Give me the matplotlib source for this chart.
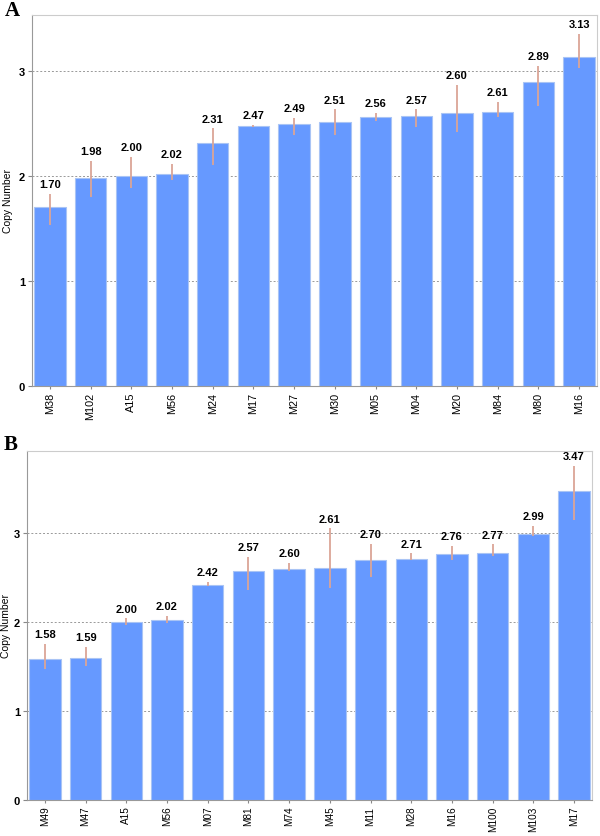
import matplotlib
matplotlib.use("Agg")
import matplotlib.pyplot as plt
import numpy as np

# Panel A data
cats_a = ["M38", "M102", "A15", "M56", "M24", "M17", "M27", "M30", "M05", "M04", "M20", "M84", "M80", "M16"]
vals_a = [1.70, 1.98, 2.00, 2.02, 2.31, 2.47, 2.49, 2.51, 2.56, 2.57, 2.60, 2.61, 2.89, 3.13]
hi_a = [1.83, 2.14, 2.18, 2.11, 2.45, 2.48, 2.55, 2.63, 2.60, 2.63, 2.86, 2.70, 3.04, 3.35]
lo_a = [1.53, 1.80, 1.88, 1.96, 2.10, 2.46, 2.39, 2.39, 2.52, 2.46, 2.42, 2.56, 2.66, 3.02]

# Panel B data
cats_b = ["M49", "M47", "A15", "M56", "M07", "M81", "M74", "M45", "M11", "M28", "M16", "M100", "M103", "M17"]
vals_b = [1.58, 1.59, 2.00, 2.02, 2.42, 2.57, 2.60, 2.61, 2.70, 2.71, 2.76, 2.77, 2.99, 3.47]
hi_b = [1.75, 1.72, 2.04, 2.07, 2.45, 2.73, 2.66, 3.05, 2.88, 2.77, 2.85, 2.87, 3.08, 3.75]
lo_b = [1.47, 1.50, 1.96, 1.99, 2.40, 2.36, 2.57, 2.38, 2.51, 2.70, 2.69, 2.74, 2.96, 3.15]

yticks = [0, 1, 2, 3]

BAR = "#6699ff"
ERR = "#dba596"

fig = plt.figure(figsize=(6.0, 8.37), dpi=100)

def panel(rect, cats, vals, hi, lo, ymax, letter, letter_pos, ylabelpad, xfs):
    ax = fig.add_axes(rect)
    x = np.arange(len(cats))
    ax.set_axisbelow(True)
    ax.grid(axis="y", linestyle=(0, (2, 2)), color="#999999", linewidth=0.7)
    ax.bar(x, vals, width=0.77, color=BAR, edgecolor="#a9c4f5", linewidth=0.8, zorder=2)
    v = np.array(vals)
    yerr = np.vstack([v - np.array(lo), np.array(hi) - v])
    ax.errorbar(x, vals, yerr=yerr, fmt="none", ecolor=ERR, elinewidth=1.3, capsize=0, zorder=3)
    for xi, val, h in zip(x, vals, hi):
        ax.annotate(f"{val:.2f}", (xi, max(val, h)), xytext=(0, 3.5), textcoords="offset points",
                    ha="center", va="bottom", fontsize=8, fontweight="bold", family="Liberation Sans")
    ax.set_xlim(-0.44, len(cats) - 1 + 0.44)
    ax.set_ylim(0, ymax)
    ax.set_yticks(yticks)
    ax.set_yticklabels([str(t) for t in yticks], fontsize=8, fontweight="bold", family="Liberation Sans")
    ax.set_xticks(x)
    ax.set_xticklabels(cats, rotation=90, fontsize=xfs, family="Liberation Sans")
    ax.tick_params(axis="x", length=2.5, color="#888888", pad=1.5)
    ax.tick_params(axis="y", length=3, color="#888888", pad=2)
    ax.set_ylabel("Copy Number", fontsize=7.5, family="Liberation Sans", labelpad=ylabelpad)
    for s in ["top", "right"]:
        ax.spines[s].set_color("#cccccc")
    for s in ["left", "bottom"]:
        ax.spines[s].set_color("#999999")
    fig.text(letter_pos[0], letter_pos[1], letter, fontsize=15, fontweight="bold",
             family="Liberation Serif", ha="left", va="top")
    return ax

panel([0.0533, 0.5376, 0.9417, 0.4435], cats_a, vals_a, hi_a, lo_a, 3.53, "A", (0.008, 0.999), 4, 7.8)
panel([0.045, 0.043, 0.9417, 0.417], cats_b, vals_b, hi_b, lo_b, 3.92, "B", (0.006, 0.480), 2, 7.2)

fig.savefig("out.png", dpi=100)
